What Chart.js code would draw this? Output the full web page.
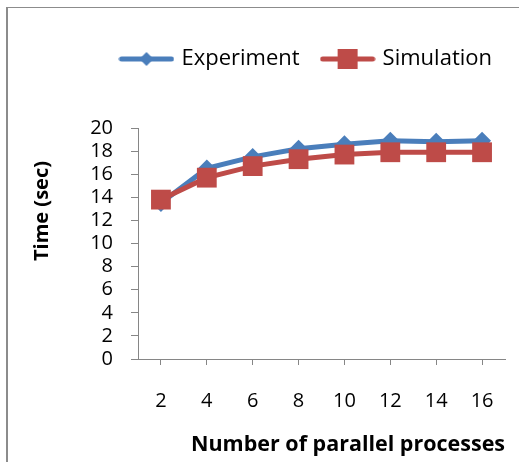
<!DOCTYPE html>
<html>
<head>
<meta charset="utf-8">
<script src="https://cdn.jsdelivr.net/npm/chart.js@4.4.1/dist/chart.umd.min.js"></script>
<style>
  html, body { margin: 0; padding: 0; background: #fff; }
  #wrap { position: relative; width: 519px; height: 462px; overflow: hidden; }
  #frame { position: absolute; left: 6px; top: 7px; width: 600px; height: 600px;
           border-left: 2px solid #8c8c8c; border-top: 1px solid #8c8c8c; }
  canvas { position: absolute; left: 0; top: 0; }
</style>
</head>
<body>
<div id="wrap">
  <div id="frame"></div>
  <canvas id="chart"></canvas>
</div>
<script>
// values
const categories = ['2', '4', '6', '8', '10', '12', '14', '16'];
const experiment = [13.5, 16.5, 17.5, 18.2, 18.6, 18.9, 18.8, 18.9];
const simulation = [13.8, 15.7, 16.7, 17.3, 17.7, 17.9, 17.9, 17.9];
const seriesNames = ['Experiment', 'Simulation'];
const yTitle = 'Time (sec)';
const xTitle = 'Number of parallel processes';

const blue = '#4a7ebb';
const red = '#be4b48';
const axisGray = '#868686';
const fontFamily = '"Open Sans", Lato, sans-serif';

// small legend swatch: line with marker in the middle
function legendSwatch(color, style) {
    const c = document.createElement('canvas');
    c.width = 56;
    c.height = 22;
    const g = c.getContext('2d');
    g.strokeStyle = color;
    g.lineWidth = 5;
    g.lineCap = 'round';
    g.beginPath();
    g.moveTo(3, 11);
    g.lineTo(53, 11);
    g.stroke();
    g.fillStyle = color;
    g.beginPath();
    if (style === 'diamond') {
        g.moveTo(28, 4); g.lineTo(35, 11); g.lineTo(28, 18); g.lineTo(21, 11);
    } else {
        g.rect(18, 1, 20, 20);
    }
    g.closePath();
    g.fill();
    return c;
}
const swatches = [legendSwatch(blue, 'diamond'), legendSwatch(red, 'square')];

const axisTitles = {
    id: 'axisTitles',
    afterDraw(chart) {
        const ctx = chart.ctx;
        ctx.save();
        ctx.fillStyle = '#000';
        ctx.textAlign = 'center';
        ctx.textBaseline = 'middle';
        ctx.font = 'bold 21.5px ' + fontFamily;
        ctx.fillText(xTitle, 348, 445);
        ctx.font = 'bold 20px ' + fontFamily;
        ctx.translate(42, 211);
        ctx.rotate(-Math.PI / 2);
        ctx.fillText(yTitle, 0, 0);
        ctx.restore();
    }
};

// leave room between the legend and the plot, nudge it right
const legendGap = {
    id: 'legendGap',
    beforeInit(chart) {
        const fit = chart.legend.fit;
        chart.legend.fit = function () {
            fit.bind(chart.legend)();
            this.height += 48;
        };
    },
    afterLayout(chart) {
        chart.legend.left += 10;
        chart.legend.right += 10;
    }
};

const ctx = document.getElementById('chart').getContext('2d');

const chart = new Chart(ctx, {
    type: 'line',
    data: {
        labels: categories,
        datasets: [{
            label: seriesNames[0],
            data: experiment,
            borderColor: blue,
            backgroundColor: blue,
            borderWidth: 5,
            pointStyle: 'rectRot',
            pointRadius: 9,
            pointHoverRadius: 9,
            pointBorderWidth: 0,
            tension: 0,
            order: 1
        }, {
            label: seriesNames[1],
            data: simulation,
            borderColor: red,
            backgroundColor: red,
            borderWidth: 5,
            pointStyle: 'rect',
            pointRadius: 14,
            pointHoverRadius: 14,
            pointBorderWidth: 0,
            tension: 0,
            order: 0
        }]
    },
    options: {
        responsive: true,
        maintainAspectRatio: false,
        animation: false,
        layout: {
            padding: { left: 0, right: 13, top: 24, bottom: 0 }
        },
        plugins: {
            tooltip: { enabled: false },
            legend: {
                position: 'top',
                align: 'end',
                labels: {
                    usePointStyle: true,
                    pointStyleWidth: 48,
                    boxHeight: 20,
                    padding: 24,
                    color: '#000',
                    font: { family: fontFamily, size: 22 },
                    generateLabels(chart) {
                        return chart.data.datasets.map((ds, i) => ({
                            text: ds.label,
                            pointStyle: swatches[i],
                            fillStyle: ds.borderColor,
                            strokeStyle: ds.borderColor,
                            lineWidth: 0,
                            hidden: false,
                            datasetIndex: i,
                            fontColor: '#000'
                        }));
                    }
                }
            }
        },
        scales: {
            x: {
                type: 'category',
                offset: true,
                grid: {
                    offset: false,
                    drawOnChartArea: false,
                    drawTicks: true,
                    tickLength: 6,
                    color: axisGray
                },
                border: { color: axisGray, width: 1 },
                ticks: {
                    color: '#000',
                    padding: 24,
                    maxRotation: 0,
                    font: { family: fontFamily, size: 20 }
                },
                afterFit(scale) { scale.height = 103; }
            },
            y: {
                min: 0,
                max: 20,
                grid: {
                    drawOnChartArea: false,
                    drawTicks: true,
                    tickLength: 7,
                    color: axisGray
                },
                border: { color: axisGray, width: 1 },
                ticks: {
                    stepSize: 2,
                    autoSkip: false,
                    color: '#000',
                    padding: 18,
                    font: { family: fontFamily, size: 20 }
                },
                afterFit(scale) { scale.width = 138; }
            }
        }
    },
    plugins: [axisTitles, legendGap]
});
</script>
</body>
</html>
